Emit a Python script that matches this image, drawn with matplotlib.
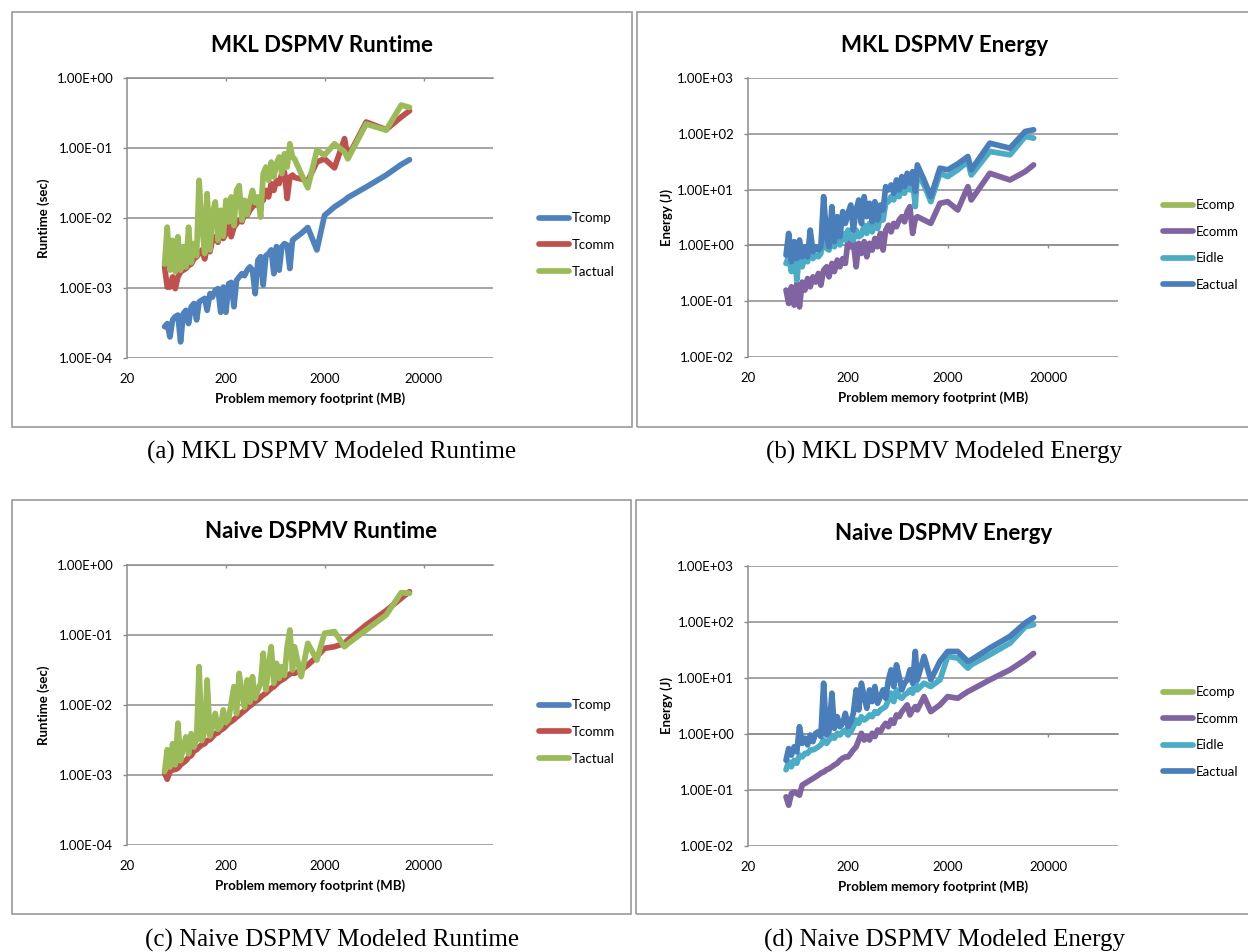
import math
import matplotlib
matplotlib.use("Agg")
import matplotlib.pyplot as plt
from matplotlib.patches import Rectangle
from matplotlib.ticker import FuncFormatter, NullLocator

# Problem sizes (MB), shared by all four charts
footprint_mb = [48.0, 51.0, 54.3, 57.8, 61.5, 65.4, 69.6, 74.1, 78.8, 83.8,
                89.2, 94.9, 101, 107, 114, 122, 129, 138, 146, 156,
                166, 177, 188, 200, 213, 226, 241, 256, 272, 290,
                308, 328, 349, 371, 395, 421, 448, 476, 507, 539,
                573, 610, 649, 690, 734, 781, 831, 885, 941,
                986, 1151, 1344, 1659, 1983, 2500, 3155, 3411, 5224, 8318, 11800, 14330]

# (a) MKL runtime (sec)
mkl_tcomp = [0.00028, 0.00031, 0.00020, 0.00035, 0.00039, 0.00041, 0.00017, 0.00043, 0.00048, 0.00031,
             0.00054, 0.00060, 0.00035, 0.00063, 0.00067, 0.00071, 0.00048, 0.00083, 0.00074, 0.00093,
             0.00098, 0.00045, 0.00103, 0.00045, 0.00115, 0.0012, 0.00054, 0.00129, 0.00144, 0.0016,
             0.0015, 0.0018, 0.0020, 0.0018, 0.00083, 0.0025, 0.0028, 0.0011, 0.0029, 0.0031,
             0.0035, 0.0016, 0.0039, 0.0018, 0.0039, 0.0043, 0.0041, 0.0019, 0.0048,
             0.0051, 0.0060, 0.0073, 0.0035, 0.0109, 0.0144, 0.0179, 0.0196, 0.0277, 0.041, 0.058, 0.068]
mkl_tcomm = [0.0020, 0.00103, 0.00103, 0.00144, 0.00098, 0.00144, 0.0017, 0.0018, 0.0019, 0.0021,
             0.0022, 0.0026, 0.0028, 0.0031, 0.0035, 0.0026, 0.0039, 0.0033, 0.0048, 0.0054,
             0.0045, 0.0067, 0.0051, 0.0060, 0.0083, 0.0054, 0.0074, 0.0083, 0.0093, 0.0088,
             0.0115, 0.0109, 0.0129, 0.0144, 0.016, 0.0152, 0.020, 0.0179, 0.0248, 0.020,
             0.031, 0.0248, 0.0345, 0.031, 0.043, 0.045, 0.019, 0.0385, 0.041,
             0.038, 0.036, 0.034, 0.063, 0.070, 0.052, 0.136, 0.074, 0.235, 0.183, 0.277, 0.34]
mkl_tactual = [0.0022, 0.0074, 0.0018, 0.0048, 0.0017, 0.0054, 0.0018, 0.0039, 0.0020, 0.0074,
               0.0023, 0.0043, 0.0029, 0.0345, 0.0083, 0.0031, 0.0223, 0.0035, 0.0115, 0.017,
               0.0048, 0.0129, 0.0055, 0.0179, 0.0088, 0.020, 0.0078, 0.0248, 0.029, 0.0093,
               0.0179, 0.0112, 0.0179, 0.0248, 0.0165, 0.020, 0.0103, 0.043, 0.0535, 0.0345,
               0.063, 0.0385, 0.060, 0.0744, 0.043, 0.083, 0.0535, 0.115, 0.0744,
               0.070, 0.043, 0.027, 0.093, 0.079, 0.115, 0.088, 0.070, 0.22, 0.18, 0.41, 0.38]

# (b) MKL energy (J)
mkl_ecomp = []
mkl_ecomm = [0.158, 0.091, 0.181, 0.085, 0.207, 0.079, 0.22, 0.158, 0.255, 0.181,
             0.273, 0.22, 0.314, 0.194, 0.36, 0.414, 0.273, 0.475, 0.34, 0.545,
             0.414, 0.58, 0.475, 1.25, 0.946, 1.17, 0.414, 1.09, 0.718, 1.17,
             0.625, 1.09, 0.824, 1.33, 0.946, 1.64, 0.824, 1.88, 2.3, 1.75,
             2.48, 2.16, 2.85, 3.27, 2.65, 4.03, 4.95, 1.64, 3.05,
             3.27, 2.85, 2.48, 5.68, 6.08, 4.31, 11.3, 6.52, 19.6, 14.9, 21.0, 27.7]
mkl_eidle = [0.475, 0.625, 0.34, 0.824, 0.238, 0.718, 0.414, 0.625, 0.51, 1.09,
             0.58, 0.67, 0.625, 0.718, 1.88, 0.88, 0.824, 1.88, 0.946, 1.64,
             1.02, 1.64, 1.25, 1.88, 1.33, 1.25, 1.88, 1.43, 1.53, 2.3,
             1.64, 2.48, 1.75, 2.85, 2.0, 3.27, 2.85, 5.68, 6.08, 7.49,
             6.52, 9.87, 7.49, 11.3, 8.6, 13.0, 9.87, 14.9, 4.95,
             19.6, 12.1, 6.08, 19.6, 17.1, 22.6, 31.9, 18.3, 48.2, 42.0, 89.6, 83.6]
mkl_eactual = [0.67, 1.64, 0.51, 1.17, 0.58, 1.25, 0.625, 0.946, 0.625, 1.88,
               0.77, 0.946, 0.824, 0.946, 7.49, 1.43, 0.946, 4.95, 1.17, 3.27,
               1.43, 4.03, 2.48, 3.76, 5.30, 1.88, 4.31, 6.52, 2.48, 7.49,
               3.27, 5.68, 2.65, 6.08, 2.85, 5.30, 4.31, 11.3, 9.87, 12.1,
               8.6, 14.9, 9.87, 17.1, 11.3, 19.6, 13.0, 21.0, 9.3,
               27.7, 14.9, 7.49, 24.2, 22.6, 28.9, 39.2, 22.6, 67.9, 55.3, 110, 118]

# (c) Naive runtime (sec)
naive_tcomp = []
naive_tcomm = [0.00106, 0.00087, 0.00112, 0.00118, 0.0012, 0.00125, 0.0014, 0.0015, 0.0016, 0.0018,
               0.0019, 0.0022, 0.0023, 0.0025, 0.0027, 0.0028, 0.0031, 0.0032, 0.0035, 0.0039,
               0.0040, 0.0044, 0.0046, 0.0050, 0.0055, 0.0058, 0.0062, 0.0067, 0.0072, 0.0078,
               0.0083, 0.0090, 0.0097, 0.0103, 0.0112, 0.0118, 0.0129, 0.0139, 0.0147, 0.0160,
               0.0173, 0.0183, 0.0200, 0.0216, 0.0228, 0.0240, 0.0260, 0.0277, 0.0290,
               0.0283, 0.0316, 0.0373, 0.049, 0.0645, 0.0681, 0.076, 0.0849, 0.139, 0.223, 0.334, 0.416]
naive_tactual = [0.00112, 0.0023, 0.0013, 0.0028, 0.0014, 0.0055, 0.0016, 0.0025, 0.0035, 0.0020,
                 0.0039, 0.0025, 0.0032, 0.0353, 0.0031, 0.0042, 0.0228, 0.0036, 0.0049, 0.0076,
                 0.0045, 0.0050, 0.0085, 0.0056, 0.0062, 0.0106, 0.0183, 0.0075, 0.0283, 0.0147,
                 0.0093, 0.0228, 0.0110, 0.0254, 0.0125, 0.0164, 0.0204, 0.0548, 0.0165, 0.0353,
                 0.0681, 0.0205, 0.0394, 0.0240, 0.0353, 0.0265, 0.0681, 0.118, 0.0316,
                 0.0681, 0.0254, 0.076, 0.0439, 0.106, 0.112, 0.068, 0.075, 0.118, 0.193, 0.403, 0.394]

# (d) Naive energy (J)
naive_ecomp = []
naive_ecomm = [0.0755, 0.0535, 0.0865, 0.092, 0.0865, 0.081, 0.122, 0.131, 0.14, 0.150,
               0.16, 0.172, 0.185, 0.20, 0.21, 0.23, 0.24, 0.26, 0.28, 0.30,
               0.34, 0.37, 0.39, 0.39, 0.45, 0.52, 0.59, 0.78, 1.03, 0.78,
               0.90, 0.78, 1.03, 0.90, 1.18, 1.10, 1.35, 1.55, 1.35, 1.78,
               1.55, 2.19, 2.04, 2.51, 2.88, 3.31, 2.19, 2.69, 3.09,
               2.69, 4.66, 2.51, 3.31, 4.66, 4.35, 5.73, 6.14, 9.27, 14.0, 21.1, 27.5]
naive_eidle = [0.23, 0.32, 0.26, 0.34, 0.30, 0.42, 0.39, 0.45, 0.45, 0.52,
               0.52, 0.55, 0.59, 0.64, 0.78, 0.68, 0.78, 0.90, 0.84, 1.03,
               0.96, 1.10, 1.18, 0.96, 1.10, 1.35, 1.78, 1.55, 2.04, 1.78,
               1.91, 2.19, 2.04, 2.51, 2.34, 2.69, 2.88, 3.09, 4.06, 5.35,
               3.79, 6.14, 4.66, 4.35, 5.0, 5.35, 6.14, 5.35, 9.27,
               6.14, 8.07, 7.04, 9.27, 24.3, 22.7, 15.0, 17.2, 26.0, 42.0, 82.0, 89.6]
naive_eactual = [0.34, 0.55, 0.42, 0.59, 0.48, 1.35, 0.68, 0.84, 0.64, 0.96,
                 0.73, 1.03, 1.10, 0.90, 8.07, 0.96, 1.10, 5.35, 1.26, 2.04,
                 1.35, 1.55, 2.34, 1.35, 1.66, 2.34, 6.14, 2.69, 8.07, 4.66,
                 2.88, 6.14, 3.79, 7.04, 3.54, 4.66, 6.14, 4.35, 9.27, 14.0,
                 7.04, 17.2, 10.6, 6.14, 8.07, 9.27, 14.0, 8.07, 29.8,
                 9.27, 24.3, 9.27, 19.8, 29.8, 29.8, 19.8, 21.1, 34.2, 55.4, 96.0, 120]

x_ticks = [20, 200, 2000, 20000]
runtime_names = ["Tcomp", "Tcomm", "Tactual"]
energy_names = ["Ecomp", "Ecomm", "Eidle", "Eactual"]
runtime_colors = ["#4F81BD", "#C0504D", "#9BBB59"]
energy_colors = ["#9BBB59", "#8064A2", "#4BACC6", "#4A7EBB"]

plt.rcParams["font.family"] = ["Lato", "DejaVu Sans"]

W, H = 1248, 952
fig = plt.figure(figsize=(W / 100, H / 100), dpi=100)
GRID = "#8c8c8c"


def px_rect(l, t, r, b):
    return [l / W, 1 - b / H, (r - l) / W, (b - t) / H]


panels = [
    dict(ax=(127, 78, 493, 358), frame=(12, 12, 632, 427), title="MKL DSPMV Runtime", title_y=45,
         ylabel="Runtime (sec)", ylim=(1e-4, 1), names=runtime_names, colors=runtime_colors,
         series=[mkl_tcomp, mkl_tcomm, mkl_tactual], leg=(539, 245), ylab_x=50,
         caption="(a) MKL DSPMV Modeled Runtime", cap_x=332, cap_y=452),
    dict(ax=(748, 78, 1118, 357), frame=(637, 12, 1252, 427), title="MKL DSPMV Energy", title_y=45,
         ylabel="Energy (J)", ylim=(1e-2, 1e3), names=energy_names, colors=energy_colors,
         series=[mkl_ecomp, mkl_ecomm, mkl_eidle, mkl_eactual], leg=(1163, 245), ylab_x=673,
         caption="(b) MKL DSPMV Modeled Energy", cap_x=944, cap_y=452),
    dict(ax=(127, 565, 493, 845), frame=(12, 500, 631, 914), title="Naive DSPMV Runtime", title_y=532,
         ylabel="Runtime (sec)", ylim=(1e-4, 1), names=runtime_names, colors=runtime_colors,
         series=[naive_tcomp, naive_tcomm, naive_tactual], leg=(539, 732), ylab_x=50,
         caption="(c) Naive DSPMV Modeled Runtime", cap_x=332, cap_y=940),
    dict(ax=(748, 566, 1118, 846), frame=(636, 500, 1252, 914), title="Naive DSPMV Energy", title_y=533,
         ylabel="Energy (J)", ylim=(1e-2, 1e3), names=energy_names, colors=energy_colors,
         series=[naive_ecomp, naive_ecomm, naive_eidle, naive_eactual], leg=(1163, 732), ylab_x=673,
         caption="(d) Naive DSPMV Modeled Energy", cap_x=945, cap_y=940),
]

for p in panels:
    l, t, r, b = p["ax"]
    fl, ft, fr, fb = p["frame"]
    fig.patches.append(Rectangle((fl / W, 1 - fb / H), (fr - fl) / W, (fb - ft) / H,
                                 transform=fig.transFigure, fill=False, edgecolor="#9a9a9a", lw=1.2))

    ax = fig.add_axes(px_rect(l, t, r, b))
    ax.set_xscale("log")
    ax.set_yscale("log")
    ax.set_xlim(20, 1e5)
    lo, hi = p["ylim"]
    ax.set_ylim(lo, hi)

    for name, color, values in zip(p["names"], p["colors"], p["series"]):
        ax.plot(footprint_mb[:len(values)], values, color=color, lw=4.1, label=name,
                solid_joinstyle="round", solid_capstyle="round")

    exps = range(round(math.log10(lo)), round(math.log10(hi)) + 1)
    ax.set_yticks([10.0 ** k for k in exps])
    ax.yaxis.set_major_formatter(FuncFormatter(lambda v, _: f"{v:.2E}"))
    ax.set_xticks(x_ticks)
    ax.set_xticklabels([str(v) for v in x_ticks])
    ax.xaxis.set_minor_locator(NullLocator())
    ax.yaxis.set_minor_locator(NullLocator())
    ax.grid(axis="y", color=GRID, lw=1.1)
    ax.set_axisbelow(True)
    for side in ["top", "right", "bottom"]:
        ax.spines[side].set_visible(False)
    ax.spines["left"].set_color(GRID)
    ax.spines["left"].set_linewidth(1.1)
    ax.tick_params(axis="y", length=3, width=1, color=GRID, pad=7, labelsize=9.5)
    ax.tick_params(axis="x", length=0, pad=11, labelsize=9.5)

    # horizontal axis crosses the value axis at 1
    cross = -math.log10(lo) / (math.log10(hi) - math.log10(lo))
    sec = ax.secondary_xaxis(cross)
    sec.set_xticks(x_ticks[1:])
    sec.xaxis.set_minor_locator(NullLocator())
    sec.tick_params(length=2.5, width=1, color=GRID, labeltop=False, labelbottom=False,
                    direction="in" if cross > 0.5 else "out")
    for s in sec.spines.values():
        s.set_color(GRID)
        s.set_linewidth(1.1)

    ax.set_ylabel(p["ylabel"], fontsize=9.5, fontweight="bold")
    ax.yaxis.set_label_coords((p["ylab_x"] - l) / (r - l), 0.5)
    ax.set_xlabel("Problem memory footprint (MB)", fontsize=9.5, fontweight="bold")
    ax.xaxis.set_label_coords(0.5, -(392 - 358) / (b - t))

    fx = (fl + min(fr, W + 10)) / 2
    fig.text(fx / W, 1 - p["title_y"] / H, p["title"], ha="center", va="center",
             fontsize=16, fontweight="bold")

    lx, ly = p["leg"]
    ax.legend(loc="center left", bbox_to_anchor=(lx / W, 1 - ly / H), bbox_transform=fig.transFigure,
              frameon=False, fontsize=9.5, handlelength=2.3, handletextpad=0.15,
              labelspacing=1.1, borderpad=0, borderaxespad=0)

    fig.text(p["cap_x"] / W, 1 - p["cap_y"] / H, p["caption"],
             ha="center", va="center", fontsize=18, family=["Liberation Serif"])

fig.savefig("out.png", dpi=100)
